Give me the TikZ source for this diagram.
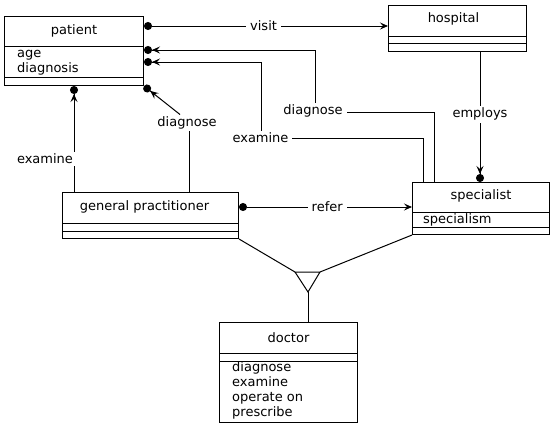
\documentclass[tikz,border=0pt]{standalone}
\usepackage{fontspec}
\setmainfont{DejaVu Sans}
\usetikzlibrary{arrows.meta,calc}
\begin{document}
\begin{tikzpicture}[x=1pt,y=-1pt,
  every node/.style={font=\fontsize{13}{15}\selectfont, inner sep=0pt},
  box/.style={draw, line width=1pt, anchor=north west, inner sep=0pt},
  conn/.style={line width=1pt},
  lbl/.style={fill=white, inner xsep=4pt, inner ysep=2pt},
  txt/.style={anchor=base west},
  dotarr/.style={-{Stealth[length=8pt,width=7pt,inset=3pt] Circle[length=8pt]}},
  dotto/.style={{Circle[length=8pt]}-{Stealth[length=8pt,width=7pt,inset=3pt]}},
]
\useasboundingbox (0,0) rectangle (553,426);

% ---------- classes ----------
\node[box, minimum width=139pt, minimum height=69pt] (patient) at (4,16) {};
\draw[conn] ($(patient.north west)+(0,30)$) -- ($(patient.north east)+(0,30)$);
\draw[conn] ($(patient.north west)+(0,61)$) -- ($(patient.north east)+(0,61)$);
\node at ($(patient.north)+(0,15)$) {patient};
\node[txt] at ($(patient.north west)+(13,41)$) {age};
\node[txt] at ($(patient.north west)+(13,56)$) {diagnosis};

\node[box, minimum width=138pt, minimum height=46pt] (hospital) at (388,5) {};
\draw[conn] ($(hospital.north west)+(0,31)$) -- ($(hospital.north east)+(0,31)$);
\draw[conn] ($(hospital.north west)+(0,38)$) -- ($(hospital.north east)+(0,38)$);
\node at ($(hospital.north)+(-4,14)$) {hospital};

\node[box, minimum width=137pt, minimum height=52pt] (specialist) at (412,182) {};
\draw[conn] ($(specialist.north west)+(0,30)$) -- ($(specialist.north east)+(0,30)$);
\draw[conn] ($(specialist.north west)+(0,45)$) -- ($(specialist.north east)+(0,45)$);
\node at ($(specialist.north)+(0,14)$) {specialist};
\node[txt] at ($(specialist.north west)+(11,41)$) {specialism};

\node[box, minimum width=176pt, minimum height=46pt] (gp) at (62,192) {};
\draw[conn] ($(gp.north west)+(0,31)$) -- ($(gp.north east)+(0,31)$);
\draw[conn] ($(gp.north west)+(0,39)$) -- ($(gp.north east)+(0,39)$);
\node at ($(gp.north)+(-6,15)$) {general practitioner};

\node[box, minimum width=138pt, minimum height=100pt] (doctor) at (219,322) {};
\draw[conn] ($(doctor.north west)+(0,31)$) -- ($(doctor.north east)+(0,31)$);
\draw[conn] ($(doctor.north west)+(0,39)$) -- ($(doctor.north east)+(0,39)$);
\node at ($(doctor.north)+(0,16)$) {doctor};
\node[txt] at ($(doctor.north west)+(13,49)$) {diagnose};
\node[txt] at ($(doctor.north west)+(13,64.3)$) {examine};
\node[txt] at ($(doctor.north west)+(13,79.6)$) {operate on};
\node[txt] at ($(doctor.north west)+(13,94.9)$) {prescribe};

% ---------- generalisation ----------
\coordinate (tl) at (295,272);
\coordinate (tr) at (320,272);
\coordinate (ta) at (308,292);
\draw[conn] (tl) -- (tr) -- (ta) -- cycle;
\draw[conn] (gp.south east) -- (tl);
\draw[conn] (tr) -- (specialist.south west);
\draw[conn] (ta) -- (ta |- doctor.north);

% ---------- associations ----------
\coordinate (pv) at ($(patient.north east)+(0,10)$);
\draw[conn, dotto] (pv) -- (pv -| hospital.west) node[lbl, pos=0.49] {visit};

\coordinate (he) at ($(hospital.south west)+(92,0)$);
\draw[conn, dotarr] (he) -- (he |- specialist.north) node[lbl, pos=0.48] {employs};

\coordinate (gr) at ($(gp.north east)+(0,15)$);
\draw[conn, dotto] (gr) -- (gr -| specialist.west) node[lbl, pos=0.51] {refer};

\coordinate (ge) at ($(gp.north west)+(12,0)$);
\draw[conn, dotarr] (ge) -- (ge |- patient.south);
\node[lbl] (exg) at (45,159) {examine};

\coordinate (gd) at ($(gp.north west)+(127,0)$);
\node[lbl] (dgg) at (187,123) {diagnose};
\draw[conn] (gd) -- (gd |- dgg.south);
\draw[conn, dotarr] ($(dgg.north)+(-7,0)$) -- (patient.south east);

\coordinate (sd) at ($(specialist.north west)+(22,0)$);
\coordinate (kd) at (315,112);
\coordinate (p50) at ($(patient.north east)+(0,34)$);
\draw[conn, dotarr] (sd) |- (kd) -- (kd |- p50) -- (p50);
\node[lbl] (dgs) at (313,111) {diagnose};

\coordinate (sx) at ($(specialist.north west)+(11,0)$);
\coordinate (kx) at (261,138);
\coordinate (p62) at ($(patient.north east)+(0,46)$);
\draw[conn, dotarr] (sx) |- (kx) -- (kx |- p62) -- (p62);
\node[lbl] (exs) at (260.5,138) {examine};
\end{tikzpicture}
\end{document}
